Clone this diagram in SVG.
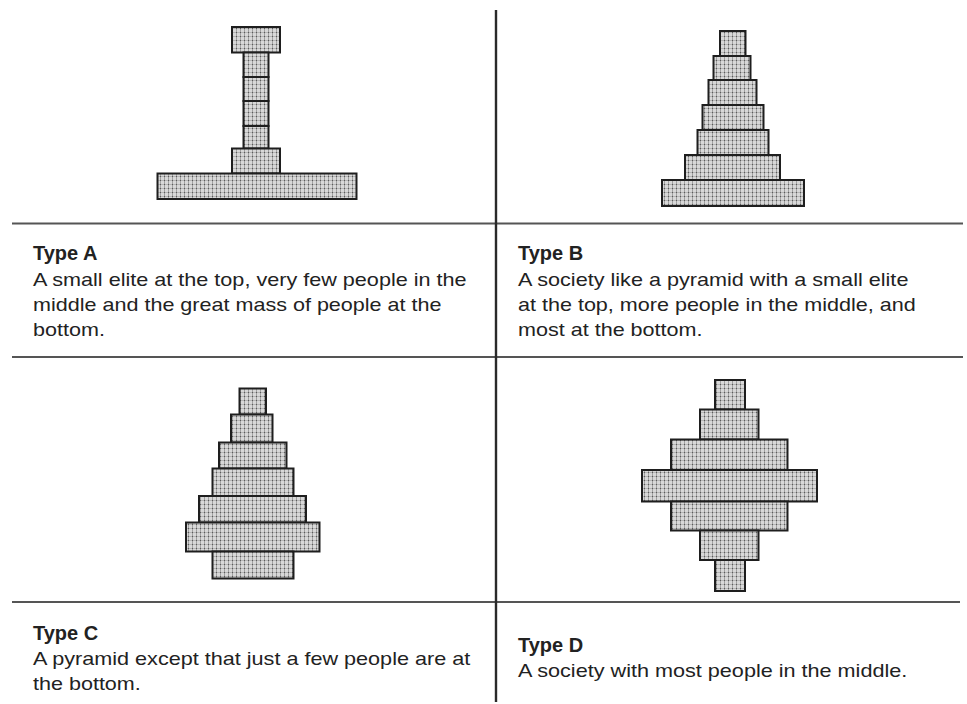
<svg xmlns="http://www.w3.org/2000/svg" width="967" height="704" viewBox="0 0 967 704">
<defs>
<pattern id="dots" x="0" y="0" width="4" height="4" patternUnits="userSpaceOnUse">
<rect width="4" height="4" fill="#d8d8d8"/>
<rect width="1" height="4" fill="#a0a0a0"/>
<rect width="4" height="1" fill="#b4b4b4"/>
<rect width="1" height="1" fill="#5a5a5a"/>
</pattern>
</defs>
<style>
.blk{fill:url(#dots);stroke:#1e1e1e;stroke-width:2}
.grid{stroke:#555;stroke-width:2;fill:none}
.vgrid{stroke:#2a2a2a;stroke-width:2.4;fill:none}
.title{font-family:"Liberation Sans",Arial,sans-serif;font-weight:bold;font-size:20px;fill:#222}
.body{font-family:"Liberation Sans",Arial,sans-serif;font-size:18.5px;fill:#222}
</style>
<rect width="967" height="704" fill="#fff"/>
<g id="connectors">
<line class="grid" x1="12" y1="223.5" x2="963" y2="223.5"/>
<line class="grid" x1="12" y1="357" x2="963" y2="357"/>
<line class="grid" x1="12" y1="602" x2="960" y2="602"/>
<line class="vgrid" x1="496" y1="10" x2="496" y2="702"/>
</g>
<g id="type-a">
<rect class="blk" x="232" y="27" width="48" height="25.5"/>
<rect class="blk" x="243.5" y="52.5" width="25" height="24.5"/>
<rect class="blk" x="243.5" y="77" width="25" height="24"/>
<rect class="blk" x="243.5" y="101" width="25" height="25"/>
<rect class="blk" x="243.5" y="126" width="25" height="22.5"/>
<rect class="blk" x="232" y="148.5" width="48" height="25"/>
<rect class="blk" x="157.5" y="173.5" width="199" height="25.5"/>
<text class="title" x="33" y="260">Type A</text>
<text class="body" x="33" y="285.5" textLength="433.6" lengthAdjust="spacingAndGlyphs">A small elite at the top, very few people in the</text>
<text class="body" x="33" y="310.5" textLength="408.5" lengthAdjust="spacingAndGlyphs">middle and the great mass of people at the</text>
<text class="body" x="33" y="335.5" textLength="71.9" lengthAdjust="spacingAndGlyphs">bottom.</text>
</g>
<g id="type-b">
<rect class="blk" x="720" y="31" width="25.5" height="25"/>
<rect class="blk" x="713.5" y="56" width="37" height="24"/>
<rect class="blk" x="708.5" y="80" width="48" height="25"/>
<rect class="blk" x="702.5" y="105" width="61" height="25"/>
<rect class="blk" x="697.5" y="130" width="71" height="25"/>
<rect class="blk" x="685" y="155" width="95" height="25"/>
<rect class="blk" x="662" y="180" width="142" height="26"/>
<text class="title" x="518" y="260">Type B</text>
<text class="body" x="518" y="285.5" textLength="390.4" lengthAdjust="spacingAndGlyphs">A society like a pyramid with a small elite</text>
<text class="body" x="518" y="310.5" textLength="397.7" lengthAdjust="spacingAndGlyphs">at the top, more people in the middle, and</text>
<text class="body" x="518" y="335.5" textLength="184.5" lengthAdjust="spacingAndGlyphs">most at the bottom.</text>
</g>
<g id="type-c">
<rect class="blk" x="239.5" y="388.5" width="26.5" height="26"/>
<rect class="blk" x="231" y="414.5" width="41.5" height="28"/>
<rect class="blk" x="219" y="442.5" width="67.5" height="26"/>
<rect class="blk" x="212.5" y="468.5" width="81" height="27.5"/>
<rect class="blk" x="199" y="496" width="107" height="26.5"/>
<rect class="blk" x="186" y="522.5" width="133.5" height="29"/>
<rect class="blk" x="212.5" y="551.5" width="81" height="27"/>
<text class="title" x="33" y="639.5">Type C</text>
<text class="body" x="33" y="664.5" textLength="437.2" lengthAdjust="spacingAndGlyphs">A pyramid except that just a few people are at</text>
<text class="body" x="33" y="689.5" textLength="107.8" lengthAdjust="spacingAndGlyphs">the bottom.</text>
</g>
<g id="type-d">
<rect class="blk" x="715" y="380" width="30" height="29.5"/>
<rect class="blk" x="700" y="409.5" width="58.5" height="30"/>
<rect class="blk" x="671" y="439.5" width="116.5" height="30.5"/>
<rect class="blk" x="642" y="470" width="175" height="31.5"/>
<rect class="blk" x="671" y="501.5" width="116.5" height="29"/>
<rect class="blk" x="700" y="530.5" width="58.5" height="29.5"/>
<rect class="blk" x="715" y="560" width="30" height="31"/>
<text class="title" x="518" y="652">Type D</text>
<text class="body" x="518" y="677" textLength="389.3" lengthAdjust="spacingAndGlyphs">A society with most people in the middle.</text>
</g>
</svg>
